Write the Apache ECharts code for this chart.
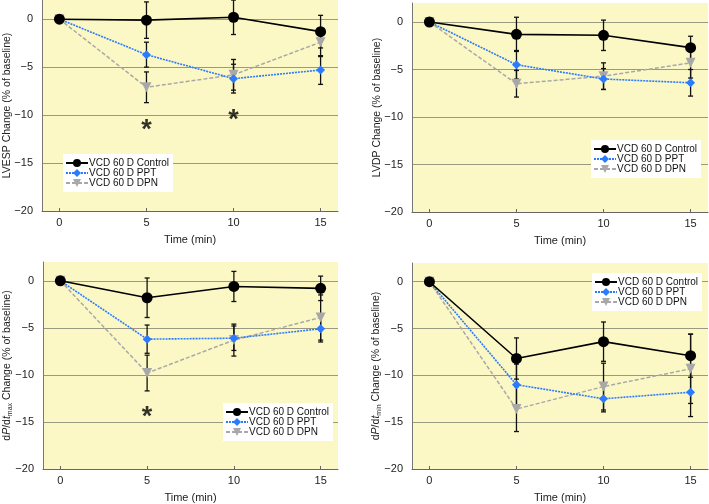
<!DOCTYPE html>
<html><head><meta charset="utf-8">
<script src="https://cdn.jsdelivr.net/npm/echarts@6/dist/echarts.min.js"></script>
<style>html,body{margin:0;padding:0;background:#fff}#c{width:709px;height:504px}</style>
</head><body><div id="c"></div>
<script>
const times = [0, 5, 10, 15];
const xTicks = [0, 5, 10, 15];
const yTicks = [-20, -15, -10, -5, 0];
const seriesNames = ['VCD 60 D Control', 'VCD 60 D PPT', 'VCD 60 D DPN'];

// Panel 1: LVESP
const lvespControl = [0, -0.1, 0.2, -1.3];
const lvespControlErr = [0, 1.9, 1.8, 1.7];
const lvespPPT = [0, -3.7, -6.2, -5.3];
const lvespPPTErr = [0, 1.3, 1.5, 1.5];
const lvespDPN = [0, -7.1, -5.8, -2.4];
const lvespDPNErr = [0, 1.6, 1.6, 1.5];
const lvespStars = [[5, -11.1], [10, -10]];

// Panel 2: LVDP
const lvdpControl = [0, -1.3, -1.4, -2.7];
const lvdpControlErr = [0, 1.8, 1.6, 1.2];
const lvdpPPT = [0, -4.5, -6.0, -6.4];
const lvdpPPTErr = [0, 1.5, 1.1, 1.4];
const lvdpDPN = [0, -6.5, -5.7, -4.3];
const lvdpDPNErr = [0, 1.4, 1.4, 1.6];
const lvdpStars = [];

// Panel 3: dP/dt max
const dpmaxControl = [0, -1.8, -0.6, -0.8];
const dpmaxControlErr = [0, 2.1, 1.6, 1.3];
const dpmaxPPT = [0, -6.2, -6.1, -5.1];
const dpmaxPPTErr = [0, 1.5, 1.3, 1.4];
const dpmaxDPN = [0, -9.8, -6.3, -3.9];
const dpmaxDPNErr = [0, 1.9, 1.7, 2.4];
const dpmaxStars = [[5, -14]];

// Panel 4: dP/dt min
const dpminControl = [0, -8.2, -6.4, -7.9];
const dpminControlErr = [0, 2.2, 2.1, 2.3];
const dpminPPT = [0, -11.0, -12.5, -11.8];
const dpminPPTErr = [0, 2.2, 1.4, 2.6];
const dpminDPN = [0, -13.6, -11.2, -9.3];
const dpminDPNErr = [0, 2.4, 2.5, 3.7];
const dpminStars = [];

const FONT = 'Liberation Sans, Arial, sans-serif';

const panels = [
  { name: 'LVESP Change (% of baseline)', grid: {left: 42, top: 0, width: 296, height: 211},
    vals: [lvespControl, lvespPPT, lvespDPN], errs: [lvespControlErr, lvespPPTErr, lvespDPNErr],
    stars: lvespStars, legend: {left: 63, top: 154} },
  { name: 'LVDP Change (% of baseline)', grid: {left: 412, top: 3, width: 296, height: 209},
    vals: [lvdpControl, lvdpPPT, lvdpDPN], errs: [lvdpControlErr, lvdpPPTErr, lvdpDPNErr],
    stars: lvdpStars, legend: {left: 591, top: 140} },
  { name: 'd{i|P}/d{i|t}{s|max} Change (% of baseline)', grid: {left: 43, top: 262, width: 295, height: 209},
    vals: [dpmaxControl, dpmaxPPT, dpmaxDPN], errs: [dpmaxControlErr, dpmaxPPTErr, dpmaxDPNErr],
    stars: dpmaxStars, legend: {left: 223, top: 403} },
  { name: 'd{i|P}/d{i|t}{s|min} Change (% of baseline)', grid: {left: 412, top: 263, width: 296, height: 210},
    vals: [dpminControl, dpminPPT, dpminDPN], errs: [dpminControlErr, dpminPPTErr, dpminDPNErr],
    stars: dpminStars, legend: {left: 592, top: 273} }
];

const styles = [
  { color: '#000000', symbol: 'circle', size: 11, type: 'solid', width: 1.6, rotate: 0 },
  { color: '#2b7bff', symbol: 'diamond', size: 9, type: [2, 1], width: 1.6, rotate: 0 },
  { color: '#a8a8a8', symbol: 'triangle', size: 10, type: [4, 2], width: 1.5, rotate: 180 }
];

const grids = [], xAxes = [], yAxes = [], series = [], legends = [];

panels.forEach((p, gi) => {
  grids.push(Object.assign({ show: true, backgroundColor: '#fbf8c5', borderWidth: 0, containLabel: false }, p.grid));
  xAxes.push({
    type: 'value', gridIndex: gi, min: -1, max: 16,
    name: 'Time (min)', nameLocation: 'middle', nameGap: 23, nameMoveOverlap: false,
    nameTextStyle: { fontFamily: FONT, fontSize: 11, color: '#222' },
    axisLine: { show: true, onZero: false, lineStyle: { color: '#666', width: 1 } },
    axisTick: { show: true, inside: true, length: 3, customValues: xTicks, lineStyle: { color: '#666' } },
    axisLabel: { customValues: xTicks, fontFamily: FONT, fontSize: 11, color: '#222', margin: 6 },
    splitLine: { show: false }
  });
  yAxes.push({
    type: 'value', gridIndex: gi, min: -20, max: 2,
    name: p.name, nameLocation: 'middle', nameGap: 29, nameRotate: 90, nameMoveOverlap: false,
    nameTextStyle: { fontFamily: FONT, fontSize: 10.5, color: '#222',
      rich: {
        i: { fontFamily: FONT, fontSize: 10.5, fontStyle: 'italic', color: '#222' },
        s: { fontFamily: FONT, fontSize: 7, color: '#222', verticalAlign: 'bottom', lineHeight: 13 }
      } },
    axisLine: { show: true, onZero: false, lineStyle: { color: '#777', width: 1 } },
    axisTick: { show: false, customValues: yTicks },
    axisLabel: { customValues: yTicks, fontFamily: FONT, fontSize: 11, color: '#222', margin: 9,
      formatter: v => (v < 0 ? '\u2212' + Math.abs(v) : String(v)) },
    splitLine: { show: true, lineStyle: { color: '#9a9a82', width: 1 } }
  });

  // error bars
  p.vals.forEach((vals, si) => {
    const errData = times.map((t, k) => [t, vals[k] - p.errs[si][k], vals[k] + p.errs[si][k]]);
    series.push({
      type: 'custom', xAxisIndex: gi, yAxisIndex: gi, silent: true, z: 3,
      data: errData.filter(d => d[2] - d[1] > 0),
      renderItem: (params, api) => {
        const x = api.value(0);
        const lo = api.coord([x, api.value(1)]);
        const hi = api.coord([x, api.value(2)]);
        const cw = 2.5;
        const st = { stroke: '#111', lineWidth: 1.3 };
        return { type: 'group', children: [
          { type: 'line', shape: { x1: lo[0], y1: lo[1], x2: hi[0], y2: hi[1] }, style: st },
          { type: 'line', shape: { x1: lo[0] - cw, y1: lo[1], x2: lo[0] + cw, y2: lo[1] }, style: st },
          { type: 'line', shape: { x1: hi[0] - cw, y1: hi[1], x2: hi[0] + cw, y2: hi[1] }, style: st }
        ] };
      }
    });
  });

  // lines
  p.vals.forEach((vals, si) => {
    const s = styles[si];
    series.push({
      type: 'line', name: seriesNames[si], xAxisIndex: gi, yAxisIndex: gi, z: 5 - si * 0.1,
      data: times.map((t, k) => [t, vals[k]]),
      symbol: s.symbol, symbolSize: s.size, symbolRotate: s.rotate, showAllSymbol: true,
      lineStyle: { color: s.color, width: s.width, type: s.type },
      itemStyle: { color: s.color, borderWidth: 0 },
      animation: false
    });
  });

  // significance stars
  if (p.stars.length) {
    series.push({
      type: 'scatter', xAxisIndex: gi, yAxisIndex: gi, symbolSize: 0, silent: true,
      data: p.stars,
      label: { show: true, position: 'inside', formatter: '*', fontFamily: FONT, fontSize: 27,
        fontWeight: 'bold', color: '#000', offset: [0, 5] }
    });
  }

  legends.push({
    data: seriesNames, left: p.legend.left, top: p.legend.top, orient: 'vertical',
    backgroundColor: '#ffffff', padding: [4, 4, 4, 2], itemGap: 0, itemWidth: 22, itemHeight: 10,
    selectedMode: false,
    textStyle: { fontFamily: FONT, fontSize: 10, color: '#111', lineHeight: 10, padding: [0, 0, 0, -4] }
  });
});

const chart = echarts.init(document.getElementById('c'), null, { renderer: 'canvas' });
chart.setOption({
  animation: false,
  grid: grids, xAxis: xAxes, yAxis: yAxes, series: series, legend: legends
});
</script></body></html>
